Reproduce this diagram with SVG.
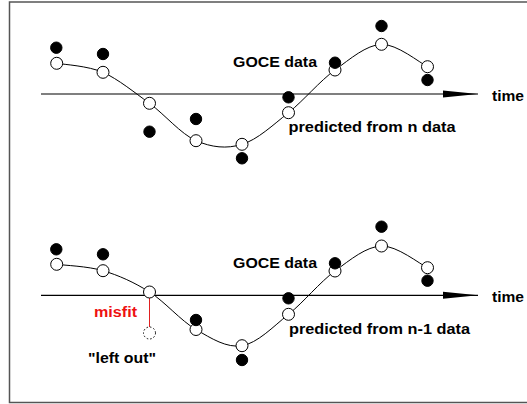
<svg xmlns="http://www.w3.org/2000/svg" width="527" height="404" viewBox="0 0 527 404">
  <style>
    .frame { fill: none; stroke: #555555; stroke-width: 1.5; }
    .axis { stroke: #000000; stroke-width: 1.2; fill: none; marker-end: url(#arrowhead); }
    .curve { stroke: #000000; stroke-width: 1; fill: none; }
    .pred { fill: #ffffff; stroke: #000000; stroke-width: 1; }
    .obs { fill: #000000; stroke: #000000; stroke-width: 1; }
    .left-out { fill: #ffffff; stroke: #000000; stroke-width: 1; stroke-dasharray: 1.5 2; }
    .misfit-line { stroke: #e02020; stroke-width: 1; }
    .lbl { font-family: "Liberation Sans", Arial, sans-serif; font-weight: bold; font-size: 14px; fill: #000000; }
    .red { fill: #ee1111; }
  </style>
  <defs>
    <marker id="arrowhead" markerUnits="userSpaceOnUse" markerWidth="36" markerHeight="8" refX="35" refY="4" orient="auto">
      <path d="M0,0.5 L35,4 L0,7.5 Z" fill="#000000"/>
    </marker>
  </defs>

  <!-- open-ended frame: top, left and bottom edges -->
  <path class="frame" d="M540,2 H9.5 V402.5 H540"/>

  <!-- upper panel: prediction from all n samples -->
  <g id="panel-n">
    <g id="connectors-n">
      <line class="axis" x1="41" y1="94" x2="478" y2="94"/>
      <path class="curve" d="M56.7,63.3 C64.7,64.6 87.6,65.8 103,72.3 C118.4,79.3 134,92.2 149.5,103.3 C165,114.8 180.6,133.7 196,140.7 C211.4,147.3 226.6,149.2 242,144.3 C257.4,139.8 273,124.9 288.5,112.7 C304,100.1 319.5,81.3 335,70 C350.5,58.7 366.1,45.1 381.5,44.3 C396.9,43.9 419.8,62.8 427.5,66.7"/>
    </g>
    <g id="predicted-n">
      <circle class="pred" cx="56.7" cy="63.3" r="6"/>
      <circle class="pred" cx="103" cy="72.3" r="6"/>
      <circle class="pred" cx="149.5" cy="103.3" r="6"/>
      <circle class="pred" cx="196" cy="140.7" r="6"/>
      <circle class="pred" cx="242" cy="144.3" r="6"/>
      <circle class="pred" cx="288.5" cy="112.7" r="6"/>
      <circle class="pred" cx="335" cy="70" r="6"/>
      <circle class="pred" cx="381.5" cy="44.3" r="6"/>
      <circle class="pred" cx="427.5" cy="66.7" r="6"/>
    </g>
    <g id="goce-n">
      <circle class="obs" cx="56.3" cy="47.7" r="5.7"/>
      <circle class="obs" cx="103" cy="54" r="5.7"/>
      <circle class="obs" cx="149.5" cy="131.7" r="5.7"/>
      <circle class="obs" cx="196" cy="119" r="5.7"/>
      <circle class="obs" cx="242" cy="158.3" r="5.7"/>
      <circle class="obs" cx="288.5" cy="97.3" r="5.7"/>
      <circle class="obs" cx="335" cy="62.7" r="5.7"/>
      <circle class="obs" cx="381.5" cy="26" r="5.7"/>
      <circle class="obs" cx="427.5" cy="80" r="5.7"/>
    </g>
    <g id="labels-n">
      <text class="lbl" x="233" y="66.5" textLength="84" lengthAdjust="spacingAndGlyphs">GOCE data</text>
      <text class="lbl" x="288.5" y="132" textLength="167" lengthAdjust="spacingAndGlyphs">predicted from n data</text>
      <text class="lbl" x="492" y="101" textLength="32" lengthAdjust="spacingAndGlyphs">time</text>
    </g>
  </g>

  <!-- lower panel: prediction with one sample left out -->
  <g id="panel-n-1">
    <g id="connectors-n-1">
      <line class="axis" x1="41" y1="295.3" x2="478" y2="295.3"/>
      <path class="curve" d="M56.7,264.3 C64.4,265.4 87.5,266.1 103,270.7 C118.5,275.3 134,282.2 149.5,292 C165,301.8 180.6,320.6 196,329.5 C211.4,338.5 226.6,348.2 242,345.7 C257.4,343.2 273,326.8 288.5,314.3 C304,301.9 319.5,282.4 335,271 C350.5,259.6 366.1,246.6 381.5,246 C396.9,245.5 419.8,264.1 427.5,267.7"/>
      <line class="misfit-line" x1="149.5" y1="298" x2="149.5" y2="327"/>
    </g>
    <g id="predicted-n-1">
      <circle class="pred" cx="56.7" cy="264.3" r="6"/>
      <circle class="pred" cx="103" cy="270.7" r="6"/>
      <circle class="pred" cx="149.5" cy="292" r="6"/>
      <circle class="pred" cx="196" cy="329.5" r="6"/>
      <circle class="pred" cx="242" cy="345.7" r="6"/>
      <circle class="pred" cx="288.5" cy="314.3" r="6"/>
      <circle class="pred" cx="335" cy="271" r="6"/>
      <circle class="pred" cx="381.5" cy="246" r="6"/>
      <circle class="pred" cx="427.5" cy="267.7" r="6"/>
    </g>
    <g id="goce-n-1">
      <circle class="obs" cx="56.3" cy="249.3" r="5.7"/>
      <circle class="obs" cx="103" cy="254.3" r="5.7"/>
      <circle class="left-out" cx="149.5" cy="333" r="6"/>
      <circle class="obs" cx="196" cy="320" r="5.7"/>
      <circle class="obs" cx="242" cy="360" r="5.7"/>
      <circle class="obs" cx="288.5" cy="298.3" r="5.7"/>
      <circle class="obs" cx="335" cy="263.3" r="5.7"/>
      <circle class="obs" cx="381.5" cy="226.7" r="5.7"/>
      <circle class="obs" cx="427.5" cy="280.7" r="5.7"/>
    </g>
    <g id="labels-n-1">
      <text class="lbl" x="233" y="268" textLength="84" lengthAdjust="spacingAndGlyphs">GOCE data</text>
      <text class="lbl" x="289" y="333.5" textLength="181" lengthAdjust="spacingAndGlyphs">predicted from n-1 data</text>
      <text class="lbl" x="492" y="302" textLength="32" lengthAdjust="spacingAndGlyphs">time</text>
      <text class="lbl red" x="94" y="316.5" textLength="43" lengthAdjust="spacingAndGlyphs">misfit</text>
      <text class="lbl" x="88" y="363" textLength="68" lengthAdjust="spacingAndGlyphs">"left out"</text>
    </g>
  </g>
</svg>
